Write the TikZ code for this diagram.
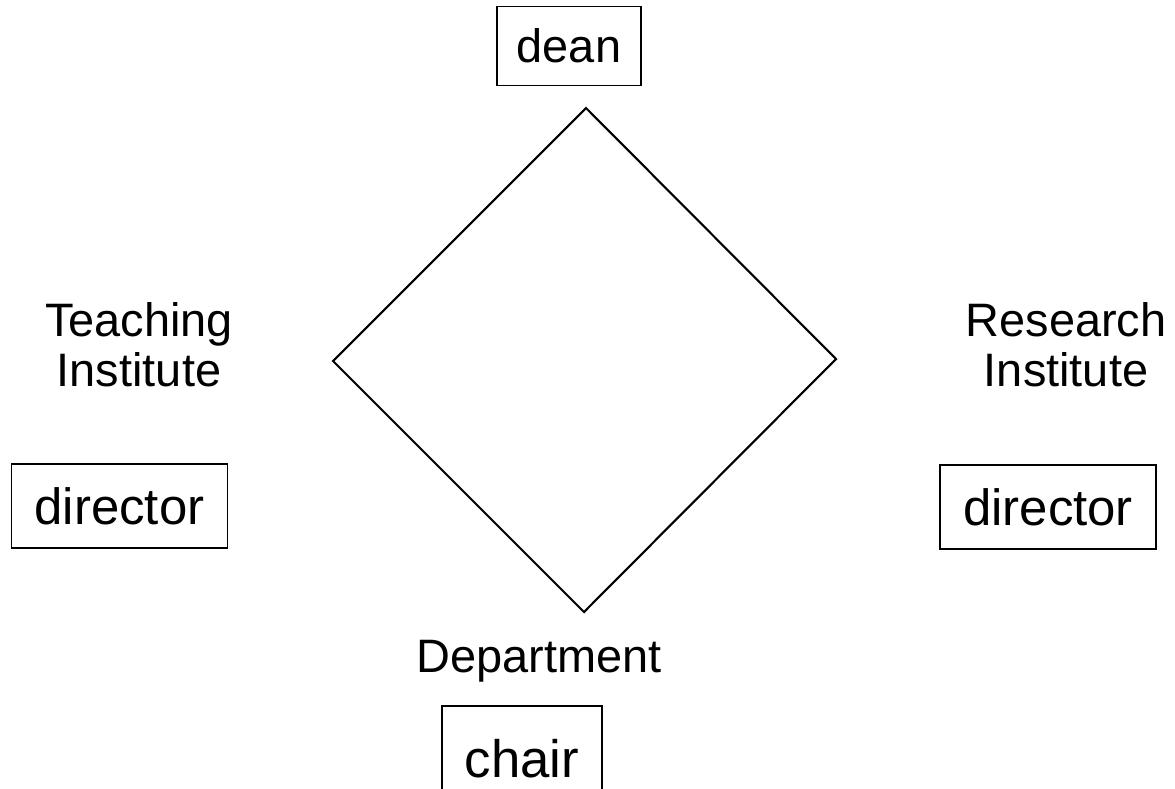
\documentclass[tikz,border=0pt]{standalone}
\usepackage{fontspec}
\setmainfont{Liberation Sans}
\begin{document}
\begin{tikzpicture}[x=0.02cm, y=-0.02cm, line width=0.8pt,
    role/.style={draw, inner xsep=0.4cm, minimum height=1.58cm, text height=0.68cm, text depth=0.02cm},
    bigrole/.style={role, inner xsep=0.46cm, minimum height=1.68cm, text height=0.74cm},
    unit/.style={align=center, inner sep=0pt}]
    \useasboundingbox (0,0) rectangle (1175,788);
    \clip (0,0) rectangle (1175,788);
    \fontsize{26.7}{28.5}\selectfont
    \draw[line width=1.2pt] (586,108) -- (836,359) -- (584,612) -- (333,361) -- cycle;
    \node[role] (dean) at (569,46) {dean};
    \node[unit] (teach) at (139,345) {Teaching\\Institute};
    \node[bigrole, font=\fontsize{29}{30}\selectfont] (tdir) at (119.5,506) {director};
    \node[unit] (research) at (1066,345) {Research\\Institute};
    \node[bigrole, font=\fontsize{29}{30}\selectfont] (rdir) at (1048,507) {director};
    \node[unit, anchor=base] (dept) at (539,672) {Department};
    \node[bigrole, minimum height=2.12cm, font=\fontsize{30}{31}\selectfont] (chair) at (522,759) {chair};
\end{tikzpicture}
\end{document}
